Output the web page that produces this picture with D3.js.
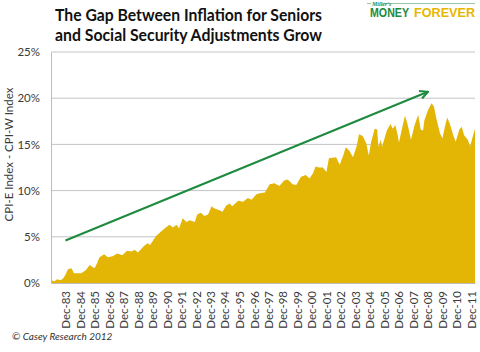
<!DOCTYPE html>
<html>
<head>
<meta charset="utf-8">
<script src="https://cdn.jsdelivr.net/npm/d3@7"></script>
<style>
  body { margin: 0; background: #fff; }
  svg { display: block; }
</style>
</head>
<body>
<svg id="drawing_region"></svg>
<script>
// months (YYYY-MM) and the gap CPI-E minus CPI-W, in %
const months = [
  "1982-12","1983-03","1983-05","1983-08","1983-10","1983-12","1984-02","1984-05","1984-07","1985-01",
  "1985-05","1985-08","1985-12","1986-02","1986-04","1986-08","1986-11","1987-03","1987-07","1987-11",
  "1988-03","1988-07","1988-09","1988-12","1989-05","1989-08","1989-10","1990-03","1990-10","1991-02",
  "1991-05","1991-08","1991-10","1992-01","1992-04","1992-07","1992-11","1993-01","1993-04","1993-07",
  "1993-10","1994-01","1994-03","1994-07","1994-10","1995-01","1995-04","1995-06","1995-11","1996-03",
  "1996-07","1996-10","1997-02","1997-05","1997-09","1998-01","1998-05","1998-09","1999-01","1999-04",
  "1999-08","1999-11","2000-03","2000-07","2000-10","2001-01","2001-03","2001-06","2001-09","2001-12",
  "2002-02","2002-08","2002-11","2003-02","2003-04","2003-07","2003-10","2004-01","2004-03","2004-06",
  "2004-09","2004-11","2005-01","2005-04","2005-06","2005-07","2005-09","2005-10","2006-02","2006-05",
  "2006-07","2006-09","2006-11","2006-12","2007-02","2007-05","2007-07","2007-10","2008-01","2008-04",
  "2008-06","2008-08","2008-09","2008-12","2009-03","2009-05","2009-07","2009-10","2009-12","2010-02",
  "2010-04","2010-06","2010-09","2010-11","2011-02","2011-04","2011-06","2011-09","2011-11","2012-01",
  "2012-03"
];
const gap = [
  0.3, 0.2, 0.4, 0.3, 0.5, 0.9, 1.5, 1.6, 1.05, 1.05,
  1.4, 1.95, 1.6, 2.1, 2.75, 3.1, 2.8, 2.9, 3.2, 3.0,
  3.5, 3.4, 3.6, 3.3, 4.0, 4.3, 4.1, 5.1, 5.9, 6.3,
  6.0, 6.3, 5.9, 7.0, 6.6, 6.8, 6.6, 7.4, 7.6, 7.25,
  7.4, 8.3, 8.1, 7.9, 7.7, 8.4, 8.6, 8.3, 8.9, 8.8,
  9.2, 9.0, 9.6, 9.7, 9.8, 10.7, 10.8, 10.5, 11.1, 11.2,
  10.7, 10.6, 11.5, 11.7, 11.3, 11.9, 12.6, 12.5, 12.5, 12.0,
  13.5, 13.6, 12.8, 13.85, 14.7, 14.3, 13.6, 14.8, 16.1, 15.9,
  15.1, 13.8, 15.3, 16.7, 16.6, 14.75, 15.5, 14.75, 16.5, 17.2,
  16.7, 17.1, 16.0, 15.2, 16.4, 18.1, 17.3, 15.5, 17.1, 18.2,
  16.6, 16.5, 17.6, 18.7, 19.45, 19.1, 17.8, 16.2, 15.65, 16.9,
  17.9, 17.3, 16.0, 15.3, 16.6, 16.9, 16.0, 15.5, 14.8, 15.8,
  16.7
];
const yTicks = [0, 5, 10, 15, 20, 25];
const xTickYears = d3.range(1983, 2012);
// trend arrow: [month, %] at start and tip
const arrowFrom = ["1983-12", 4.6];
const arrowTo = ["2008-12", 20.7];

const parseMonth = d3.timeParse("%Y-%m");
const data = months.map((m, i) => ({ date: parseMonth(m), value: gap[i] }));

const width = 480;
const height = 352;
const margin = { top: 52, right: 5, bottom: 69, left: 51 };
const inner_width = width - margin.left - margin.right;
const inner_height = height - margin.top - margin.bottom;

const svg = d3.select("#drawing_region")
    .attr("width", width)
    .attr("height", height)
    .style("font-family", "Lato, 'Open Sans', sans-serif");

const chart = svg.append("g")
    .attr("transform", `translate(${margin.left}, ${margin.top})`);

const xscale = d3.scaleTime()
    .domain([parseMonth(months[0]), parseMonth(months[months.length - 1])])
    .range([0, inner_width]);

const yscale = d3.scaleLinear()
    .domain([0, 25])
    .range([inner_height, 0]);

// gridlines
chart.append("g").selectAll("line")
    .data(yTicks.filter(d => d > 0))
    .enter().append("line")
    .attr("x1", 0)
    .attr("x2", inner_width)
    .attr("y1", d => yscale(d))
    .attr("y2", d => yscale(d))
    .attr("stroke", "#c4c4c4")
    .attr("stroke-width", 1);

// area
const area = d3.area()
    .x(d => xscale(d.date))
    .y0(yscale(0))
    .y1(d => yscale(d.value));

chart.append("path")
    .datum(data)
    .attr("fill", "#e3b505")
    .attr("d", area);

// y axis
const yaxis = d3.axisLeft(yscale)
    .tickValues(yTicks)
    .tickSize(0)
    .tickPadding(11)
    .tickFormat(d => d + "%");

const yaxis_group = chart.append("g").call(yaxis);
yaxis_group.select(".domain").attr("stroke", "#bdbdbd");
yaxis_group.selectAll("text")
    .attr("font-size", "11.5px")
    .attr("fill", "#3a3a3a")
    .style("font-family", "Lato, sans-serif");

// x axis
const xaxis = d3.axisBottom(xscale)
    .tickValues(xTickYears.map(y => new Date(y, 11, 1)))
    .tickSize(0)
    .tickSizeOuter(0)
    .tickFormat(d3.timeFormat("Dec-%y"));

const xaxis_group = chart.append("g")
    .attr("transform", `translate(0, ${inner_height})`)
    .call(xaxis);
xaxis_group.select(".domain").attr("stroke", "#bdbdbd");
xaxis_group.selectAll("text")
    .attr("font-size", "11.5px")
    .attr("fill", "#3a3a3a")
    .attr("text-anchor", "end")
    .attr("dy", "0.35em")
    .attr("x", -8)
    .attr("y", 0)
    .attr("transform", "rotate(-90)")
    .style("font-family", "Lato, sans-serif");

// y axis title
svg.append("text")
    .attr("transform", `translate(13, ${margin.top + inner_height / 2 - 13}) rotate(-90)`)
    .attr("text-anchor", "middle")
    .attr("font-size", "11.5px")
    .attr("fill", "#3a3a3a")
    .text("CPI-E Index - CPI-W Index");

// trend arrow
svg.append("defs").append("marker")
    .attr("id", "head")
    .attr("viewBox", "0 0 10 10")
    .attr("refX", 9)
    .attr("refY", 5)
    .attr("markerWidth", 5)
    .attr("markerHeight", 5)
    .attr("orient", "auto")
    .append("path")
    .attr("d", "M1,1 L9,5 L1,9")
    .attr("fill", "none")
    .attr("stroke", "#1d8a3e")
    .attr("stroke-width", 2);

chart.append("line")
    .attr("x1", xscale(parseMonth(arrowFrom[0])))
    .attr("y1", yscale(arrowFrom[1]))
    .attr("x2", xscale(parseMonth(arrowTo[0])))
    .attr("y2", yscale(arrowTo[1]))
    .attr("stroke", "#1d8a3e")
    .attr("stroke-width", 2)
    .attr("marker-end", "url(#head)");

// title
const title = svg.append("g")
    .attr("font-family", "Lato, 'Open Sans', sans-serif")
    .attr("font-weight", "bold")
    .attr("font-size", "17px")
    .attr("fill", "#111");
title.append("text")
    .attr("x", 55).attr("y", 21)
    .attr("textLength", 267).attr("lengthAdjust", "spacingAndGlyphs")
    .text("The Gap Between Inflation for Seniors");
title.append("text")
    .attr("x", 55).attr("y", 41)
    .attr("textLength", 267).attr("lengthAdjust", "spacingAndGlyphs")
    .text("and Social Security Adjustments Grow");

// logo
const logo = svg.append("g");
logo.append("line")
    .attr("x1", 384).attr("x2", 475).attr("y1", 3.5).attr("y2", 3.5)
    .attr("stroke", "#9cc9a5").attr("stroke-width", 1);
logo.append("line")
    .attr("x1", 367).attr("x2", 371).attr("y1", 3.5).attr("y2", 3.5)
    .attr("stroke", "#9cc9a5").attr("stroke-width", 1);
logo.append("text")
    .attr("x", 372).attr("y", 6)
    .attr("font-size", "6px").attr("font-style", "italic").attr("font-weight", "bold")
    .attr("font-family", "'Liberation Serif', serif")
    .attr("fill", "#1d8a3e")
    .text("Miller's");
logo.append("text")
    .attr("x", 370).attr("y", 17)
    .attr("font-size", "12px").attr("font-weight", "bold")
    .attr("font-family", "'Liberation Sans Narrow', 'Liberation Sans', sans-serif")
    .attr("fill", "#1d8a3e")
    .attr("textLength", 39).attr("lengthAdjust", "spacingAndGlyphs")
    .text("MONEY");
logo.append("text")
    .attr("x", 414).attr("y", 17)
    .attr("font-size", "12px").attr("font-weight", "bold")
    .attr("font-family", "'Liberation Sans Narrow', 'Liberation Sans', sans-serif")
    .attr("fill", "#e8b600")
    .attr("textLength", 61).attr("lengthAdjust", "spacingAndGlyphs")
    .text("FOREVER");

// copyright
svg.append("text")
    .attr("x", 12).attr("y", 340)
    .attr("font-size", "10px")
    .attr("font-style", "italic")
    .attr("fill", "#333")
    .text("\u00A9 Casey Research 2012");
</script>
</body>
</html>
